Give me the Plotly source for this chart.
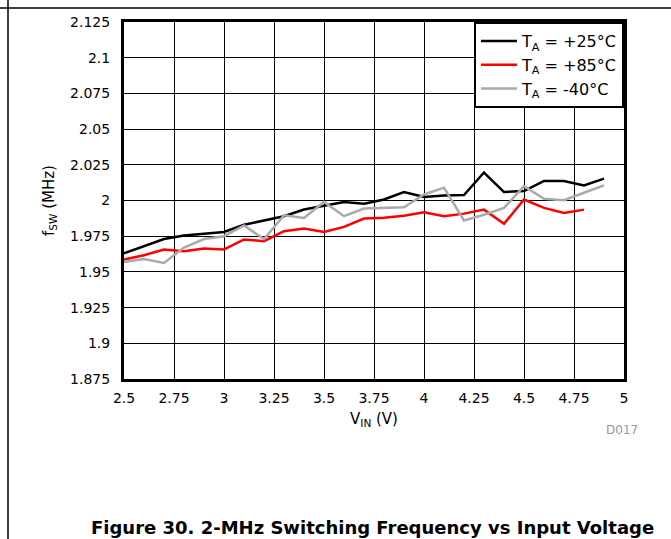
import plotly.graph_objects as go

vin = [2.5, 2.6, 2.7, 2.8, 2.9, 3.0, 3.1, 3.2, 3.3, 3.4, 3.5, 3.6, 3.7,
       3.8, 3.9, 4.0, 4.1, 4.2, 4.3, 4.4, 4.5, 4.6, 4.7, 4.8, 4.9]
f_25 = [1.963, 1.968, 1.973, 1.9755, 1.977, 1.978, 1.983, 1.986, 1.989, 1.9937,
        1.9965, 1.999, 1.9977, 2.0007, 2.0059, 2.0025, 2.0035, 2.0038, 2.0196,
        2.0059, 2.0066, 2.0137, 2.0137, 2.0106, 2.0153]
vin_85 = vin[:24]
f_85 = [1.9586, 1.9617, 1.9657, 1.9645, 1.9664, 1.9657, 1.9727, 1.9715, 1.9785,
        1.9804, 1.978, 1.9815, 1.9874, 1.988, 1.9894, 1.9917, 1.9889, 1.9908,
        1.9936, 1.9837, 2.0007, 1.9948, 1.9913, 1.9936]
f_m40 = [1.957, 1.959, 1.9563, 1.967, 1.973, 1.975, 1.9825, 1.973, 1.9897, 1.9878,
         1.999, 1.989, 1.9944, 1.9949, 1.9953, 2.0042, 2.009, 1.986, 1.990,
         1.9948, 2.0101, 2.0012, 2.0002, 2.0054, 2.0106]

x_ticks = [2.5, 2.75, 3, 3.25, 3.5, 3.75, 4, 4.25, 4.5, 4.75, 5]
x_tick_labels = ["2.5", "2.75", "3", "3.25", "3.5", "3.75", "4", "4.25", "4.5", "4.75", "5"]
y_ticks = [1.875, 1.9, 1.925, 1.95, 1.975, 2.0, 2.025, 2.05, 2.075, 2.1, 2.125]
y_tick_labels = ["1.875", "1.9", "1.925", "1.95", "1.975", "2", "2.025", "2.05", "2.075", "2.1", "2.125"]

FONT = "DejaVu Sans, Arial, sans-serif"

fig = go.Figure()
fig.add_trace(go.Scatter(x=vin, y=f_25, mode="lines", name="T<sub>A</sub> = +25°C",
                         line=dict(color="black", width=2.5)))
fig.add_trace(go.Scatter(x=vin_85, y=f_85, mode="lines", name="T<sub>A</sub> = +85°C",
                         line=dict(color="#ff0000", width=2.5)))
fig.add_trace(go.Scatter(x=vin, y=f_m40, mode="lines", name="T<sub>A</sub> = -40°C",
                         line=dict(color="#aaaaaa", width=2.5)))

fig.update_layout(
    width=671, height=539,
    margin=dict(l=124, r=47, t=22, b=160),
    paper_bgcolor="white", plot_bgcolor="white",
    font=dict(family=FONT, size=14, color="black"),
    showlegend=True,
    legend=dict(x=1, xanchor="right", y=1, yanchor="top",
                bordercolor="black", borderwidth=2, bgcolor="white",
                font=dict(size=16), tracegroupgap=0, itemwidth=36),
    xaxis=dict(range=[2.5, 5], tickvals=x_ticks, ticktext=x_tick_labels,
               showgrid=True, gridcolor="black", gridwidth=1,
               showline=True, linecolor="black", linewidth=3, mirror=True,
               ticks="outside", ticklen=4, tickcolor="rgba(0,0,0,0)", zeroline=False,
               title=dict(text="V<sub>IN</sub> (V)", font=dict(size=15), standoff=9)),
    yaxis=dict(range=[1.875, 2.125], tickvals=y_ticks, ticktext=y_tick_labels,
               showgrid=True, gridcolor="black", gridwidth=1,
               showline=True, linecolor="black", linewidth=3, mirror=True,
               ticks="outside", ticklen=8, tickcolor="rgba(0,0,0,0)", zeroline=False,
               title=dict(text="f<sub>SW</sub> (MHz)", font=dict(size=15), standoff=12)),
)

# page/table border lines
fig.add_shape(type="line", xref="paper", yref="paper",
              x0=(0 - 124) / 500, x1=(671 - 124) / 500,
              y0=(379 - 8) / 357, y1=(379 - 8) / 357,
              line=dict(color="black", width=1.5))
fig.add_shape(type="line", xref="paper", yref="paper",
              x0=(8 - 124) / 500, x1=(8 - 124) / 500,
              y0=(379 - 0) / 357, y1=(379 - 539) / 357,
              line=dict(color="black", width=1.5))

fig.add_annotation(text="D017", xref="paper", yref="paper",
                   x=(640 - 124) / 500, y=(379 - 430) / 357,
                   xanchor="right", yanchor="middle", showarrow=False,
                   font=dict(size=12, color="#999999"))
fig.add_annotation(text="<b>Figure 30. 2-MHz Switching Frequency vs Input Voltage</b>",
                   xref="paper", yref="paper",
                   x=(372 - 124) / 500, y=(379 - 527) / 357,
                   xanchor="center", yanchor="middle", showarrow=False,
                   font=dict(size=18, color="black"))

fig.write_html("out.html", post_script="document.body.style.margin='0px';",
               config={"displayModeBar": False})
